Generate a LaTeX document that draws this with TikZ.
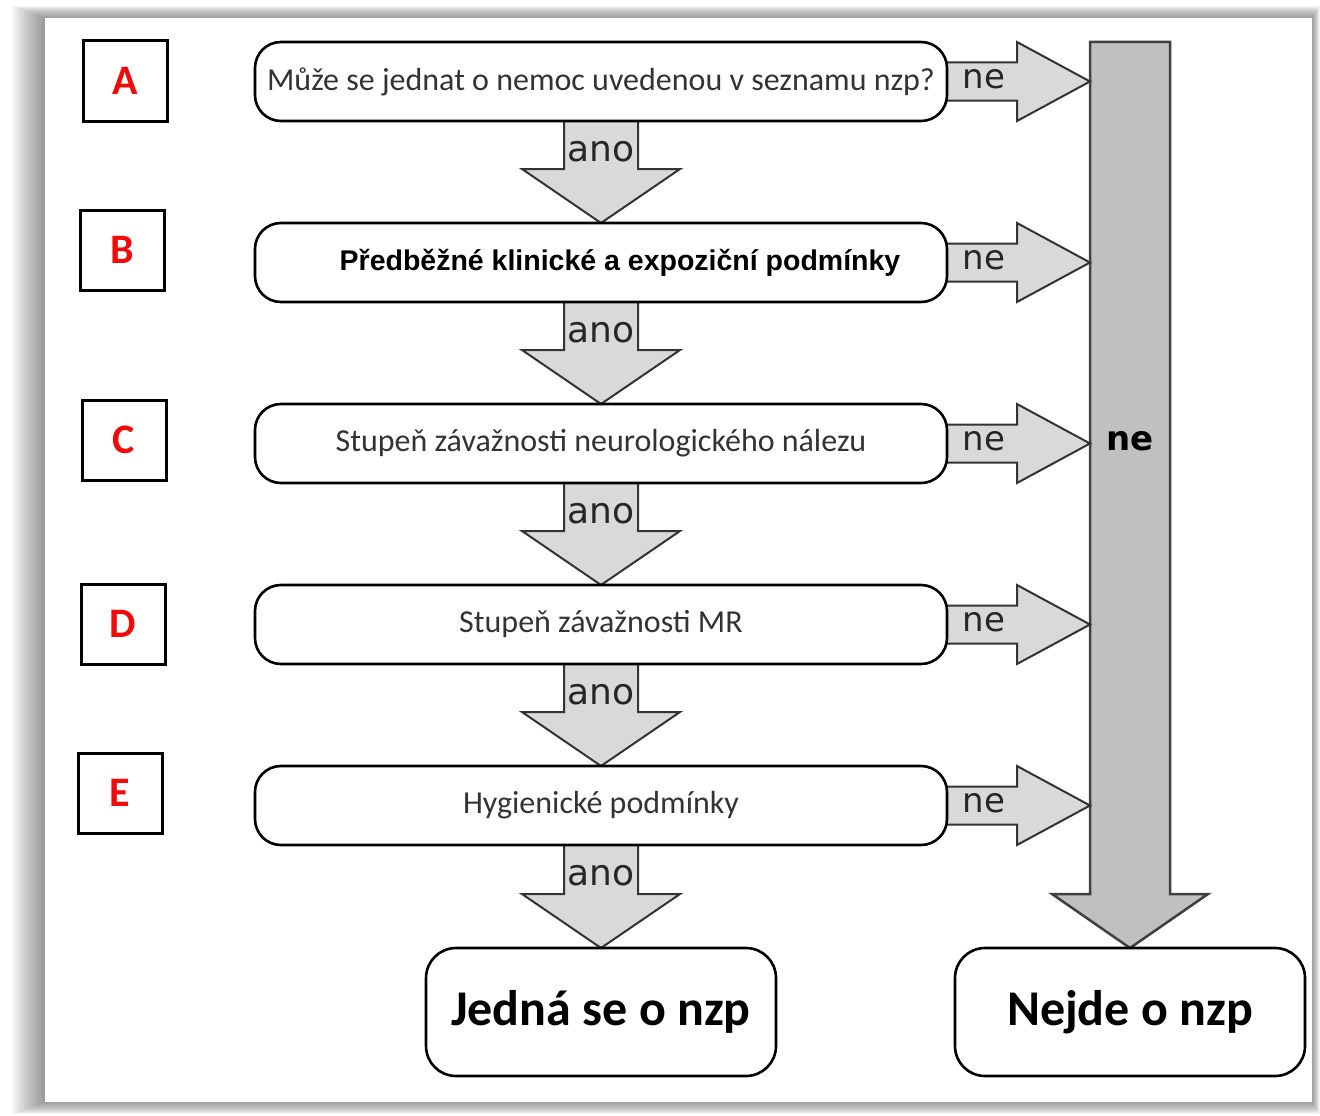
\documentclass[tikz,border=0pt]{standalone}
\usepackage{fontspec}
\setmainfont{Carlito}
\newfontfamily\arialfont{Liberation Sans}
\newfontfamily\verdfont{DejaVu Sans}
\usetikzlibrary{positioning, calc, backgrounds}
\definecolor{arrowgray}{RGB}{217,217,217}
\definecolor{bargray}{RGB}{192,192,192}
\definecolor{letterred}{RGB}{240,10,10}
\tikzset{
  letterbox/.style={draw, line width=3pt, minimum width=84pt, minimum height=80pt, inner sep=0pt, text=letterred, font=\fontsize{42}{42}\selectfont\bfseries},
  stepbox/.style={draw, line width=2.6pt, outer sep=0pt, rounded corners=26pt, fill=white, minimum width=692pt, minimum height=79pt, text=black!80, font=\fontsize{32}{36}\selectfont},
  endbox/.style={draw, line width=2.6pt, outer sep=0pt, rounded corners=30pt, fill=white, minimum width=350pt, minimum height=128pt, font=\fontsize{50}{54}\selectfont\bfseries},
  flowarrow/.style={draw=black!80, line width=2pt, fill=arrowgray},
  bigarrow/.style={draw=black!75, line width=2.5pt, fill=bargray},
  arrowtext/.style={inner sep=0pt, text=black!85, font=\verdfont\fontsize{36}{36}\selectfont}
}

\begin{document}
\begin{tikzpicture}[x=1pt, y=-1pt]
  \useasboundingbox (0,0) rectangle (1320,1116);

  % questions
  \node[stepbox] (qA) at (601,81.5) {Může se jednat o nemoc uvedenou v seznamu nzp?};
  \node[stepbox, below=102pt of qA, font=\arialfont\fontsize{28.5}{32}\selectfont\bfseries, text=black] (qB) {\hspace*{38pt}Předběžné klinické a expoziční podmínky};
  \node[stepbox, below=102pt of qB] (qC) {Stupeň závažnosti neurologického nálezu};
  \node[stepbox, below=102pt of qC] (qD) {Stupeň závažnosti MR};
  \node[stepbox, below=102pt of qD] (qE) {Hygienické podmínky};

  % results
  \node[endbox, below=103pt of qE] (jed) {Jedná se o nzp};
  \node[endbox, right=179pt of jed] (nej) {Nejde o nzp};

  % letters
  \node[letterbox] (lA) at (125,81) {A};
  \node[letterbox] (lB) at (122,250) {B};
  \node[letterbox] (lC) at (124,440) {C};
  \node[letterbox] (lD) at (123,624) {D};
  \node[letterbox] (lE) at (120,793) {E};

  \coordinate (bartop) at (1130,42);
  \coordinate (barleft) at (1090,42);

  \begin{scope}[on background layer]
    % page with shadow
    \foreach \d in {0,1,...,11}
      \fill[black, opacity=0.045] (45-3*\d,18-1.1*\d) rectangle (1312+0.7*\d,1102+1.1*\d);
    \fill[white] (45,18) rectangle (1312,1102);

    % big ne arrow
    \draw[bigarrow] ($(bartop)+(-40,0)$) -- ($(nej.north)+(-40,-54)$) -- ($(nej.north)+(-78,-54)$)
      -- (nej.north) -- ($(nej.north)+(78,-54)$) -- ($(nej.north)+(40,-54)$) -- ($(bartop)+(40,0)$) -- cycle;

    % ano arrows
    \foreach \a/\b in {qA/qB, qB/qC, qC/qD, qD/qE, qE/jed}
      \draw[flowarrow] ($(\a.south)+(-37,-6)$) -- ($(\b.north)+(-37,-54)$) -- ($(\b.north)+(-79,-54)$)
        -- (\b.north) -- ($(\b.north)+(79,-54)$) -- ($(\b.north)+(37,-54)$) -- ($(\a.south)+(37,-6)$) -- cycle;

    % ne arrows
    \foreach \q in {qA, qB, qC, qD, qE}
      \draw[flowarrow] ($(\q.east)+(-6,-19)$) -- ($(\q.east -| barleft)+(-73,-19)$) -- ($(\q.east -| barleft)+(-73,-39.5)$)
        -- (\q.east -| barleft) -- ($(\q.east -| barleft)+(-73,39.5)$) -- ($(\q.east -| barleft)+(-73,19)$) -- ($(\q.east)+(-6,19)$) -- cycle;
  \end{scope}

  % arrow labels
  \foreach \a in {qA, qB, qC, qD, qE} {
    \node[arrowtext] (ano-\a) at ($(\a.south)+(0,31)$) {ano};
    \node[arrowtext, font=\verdfont\fontsize{34}{34}\selectfont] (ne-\a) at ($(\a.east)+(37,-2)$) {ne};
  }
  \node[arrowtext, font=\verdfont\fontsize{34}{34}\selectfont\bfseries, text=black] (nebar) at (1130,441) {ne};
\end{tikzpicture}
\end{document}
